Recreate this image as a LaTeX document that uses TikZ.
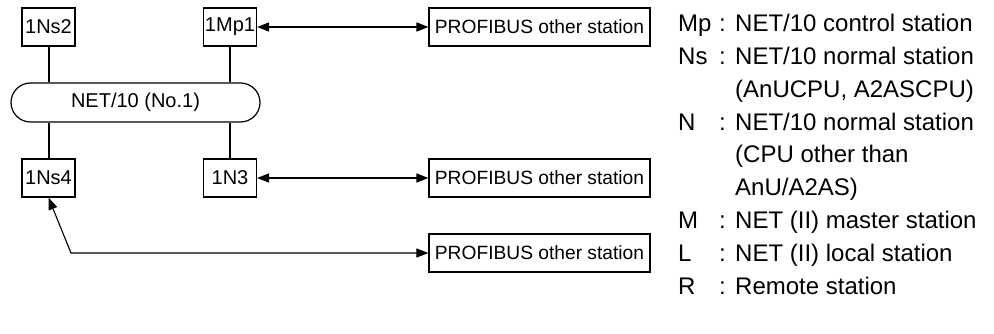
\documentclass[tikz,border=0pt]{standalone}
\usepackage{fontspec}
\setmainfont{Liberation Sans}
\usetikzlibrary{arrows.meta}
\begin{document}
\begin{tikzpicture}[x=1pt,y=-1pt,
  station/.style={draw,line width=1.2pt,minimum width=53pt,minimum height=38pt,inner sep=0pt,font=\fontsize{20}{23}\selectfont},
  profi/.style={draw,line width=1.2pt,minimum width=221pt,minimum height=38pt,inner sep=0pt,font=\fontsize{19.2}{23}\selectfont},
  pill/.style={draw,line width=1.2pt,minimum width=249pt,minimum height=39pt,rounded corners=19.5pt,inner sep=0pt,font=\fontsize{20}{23}\selectfont},
  drop/.style={line width=2pt},
  link/.style={line width=1.6pt,{Triangle[length=12pt,width=9pt]}-{Triangle[length=12pt,width=9pt]}},
  thinlink/.style={line width=1.1pt,{Triangle[length=12pt,width=9pt]}-{Triangle[length=12pt,width=9pt]}},
  leg/.style={anchor=base west,inner sep=0pt,font=\fontsize{24}{28}\selectfont}
]
\useasboundingbox (0,0) rectangle (994,334);

\node[pill] (net) at (135.5,102.5) {NET/10 (No.1)};
\node[station] (ns2) at (48.5,27) {1Ns2};
\node[station] (mp1) at (230,27) {1Mp1};
\node[station] (ns4) at (48.5,178) {1Ns4};
\node[station] (n3) at (230,178) {1N3};

\node[profi] (p1) at (539.5,27) {PROFIBUS other station};
\node[profi] (p2) at (539.5,178) {PROFIBUS other station};
\node[profi] (p3) at (539.5,253) {PROFIBUS other station};

\draw[drop] (ns2.south) -- (ns2.south |- net.north);
\draw[drop] (mp1.south) -- (mp1.south |- net.north);
\draw[drop] (ns4.north |- net.south) -- (ns4.north);
\draw[drop] (n3.north |- net.south) -- (n3.north);

\draw[link] (mp1.east) -- (p1.west);
\draw[link] (n3.east) -- (p2.west);
\coordinate (c1) at (71,253);
\draw[thinlink] (ns4.south) -- (c1) -- (p3.west);

% legend
\node[leg] (l0) at (678,32) {Mp};
\node[leg] (k0) at (719,32) {:};
\node[leg] (t0) at (735,32) {NET/10 control station};
\node[leg] (l1) at (678,64.75) {Ns};
\node[leg] (k1) at (719,64.75) {:};
\node[leg] (t1) at (735,64.75) {NET/10 normal station};
\node[leg] (t2) at (735,97.5) {(AnUCPU, A2ASCPU)};
\node[leg] (l3) at (678,130.25) {N};
\node[leg] (k3) at (719,130.25) {:};
\node[leg] (t3) at (735,130.25) {NET/10 normal station};
\node[leg] (t4) at (735,163) {(CPU other than};
\node[leg] (t5) at (735,195.75) {AnU/A2AS)};
\node[leg] (l6) at (678,228.5) {M};
\node[leg] (k6) at (719,228.5) {:};
\node[leg] (t6) at (735,228.5) {NET (II) master station};
\node[leg] (l7) at (678,261.25) {L};
\node[leg] (k7) at (719,261.25) {:};
\node[leg] (t7) at (735,261.25) {NET (II) local station};
\node[leg] (l8) at (678,294) {R};
\node[leg] (k8) at (719,294) {:};
\node[leg] (t8) at (735,294) {Remote station};
\end{tikzpicture}
\end{document}
